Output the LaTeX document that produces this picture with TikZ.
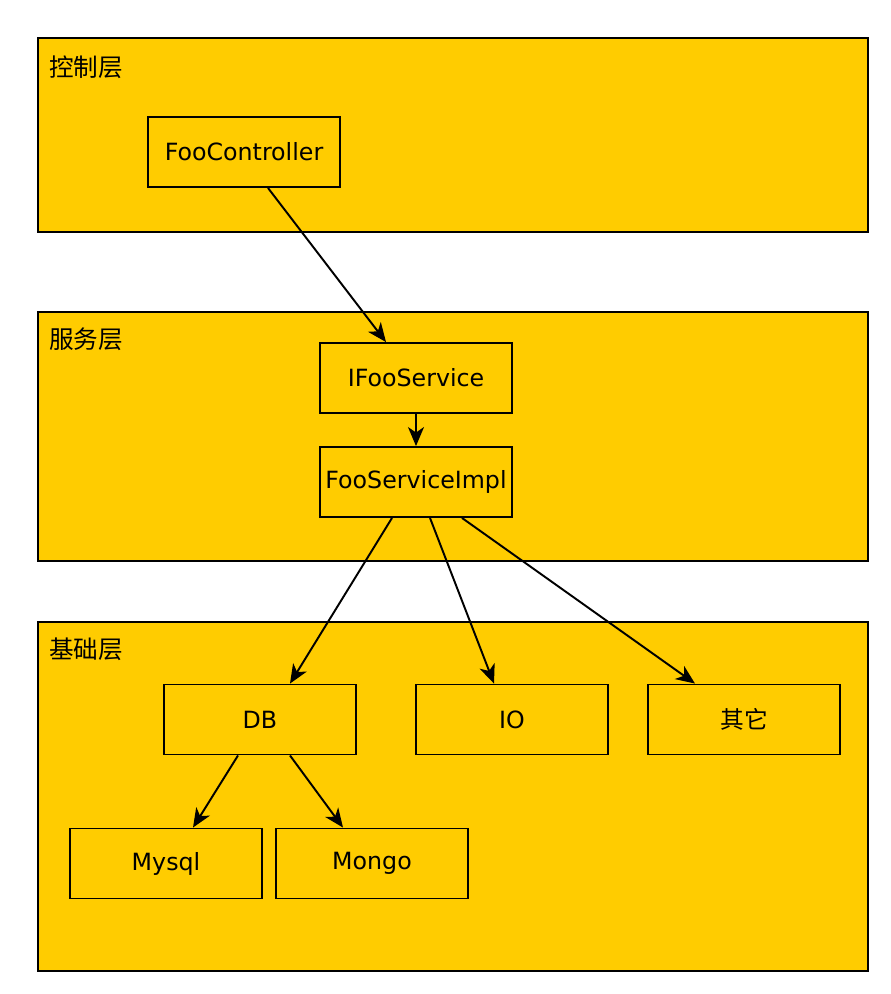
\documentclass[tikz,border=0pt]{standalone}
\usepackage{fontspec}
\setmainfont{DejaVu Sans}
\newfontfamily\cjk{Noto Sans CJK SC}
\usetikzlibrary{arrows.meta,calc}

\begin{document}
\begin{tikzpicture}[>={Stealth[length=0.38cm,width=0.32cm,inset=0.11cm]}, x=0.02cm, y=-0.02cm,
        layer/.style={draw, fill=layerfill, line width=1.1pt},
        box/.style={draw, fill=layerfill, line width=1.1pt, minimum width=3.84cm, minimum height=1.4cm, inner sep=0pt, font=\fontsize{13.5}{15}\selectfont},
        caption/.style={anchor=west, inner sep=0pt, font=\cjk\fontsize{14}{16}\selectfont},
        link/.style={->, line width=1.1pt}]
        \definecolor{layerfill}{HTML}{FFCC00}
        \useasboundingbox (0,0) rectangle (890,994);

        % layers
        \draw[layer] (38,38) rectangle (868,232);
        \draw[layer] (38,312) rectangle (868,561);
        \draw[layer] (38,622) rectangle (868,971);
        \node[caption] (ctrl) at (49,67) {控制层};
        \node[caption] (svc) at (49,339) {服务层};
        \node[caption] (base) at (49,649) {基础层};

        % components
        \node[box] (fc) at (244,152) {FooController};
        \node[box] (ifs) at (416,378) {IFooService};
        \node[box] (fsi) at (416,482) {FooServiceImpl};
        \node[box] (db) at (260,719.5) {DB};
        \node[box] (io) at (512,719.5) {IO};
        \node[box] (other) at (744,719.5) {\cjk 其它};
        \node[box] (mysql) at (166,863.5) {Mysql};
        \node[box] (mongo) at (372,863.5) {Mongo};

        \draw[link] ($(fc.south)+(24,0)$) -- ($(ifs.north)+(-30,0)$);
        \draw[link] (ifs) -- (fsi);
        \draw[link] ($(fsi.south)+(-24,0)$) -- ($(db.north)+(30,0)$);
        \draw[link] ($(fsi.south)+(14,0)$) -- ($(io.north)+(-18,0)$);
        \draw[link] ($(fsi.south)+(46,0)$) -- ($(other.north)+(-49,0)$);
        \draw[link] ($(db.south)+(-22,0)$) -- ($(mysql.north)+(27,0)$);
        \draw[link] ($(db.south)+(30,0)$) -- ($(mongo.north)+(-29,0)$);
    \end{tikzpicture}
\end{document}
